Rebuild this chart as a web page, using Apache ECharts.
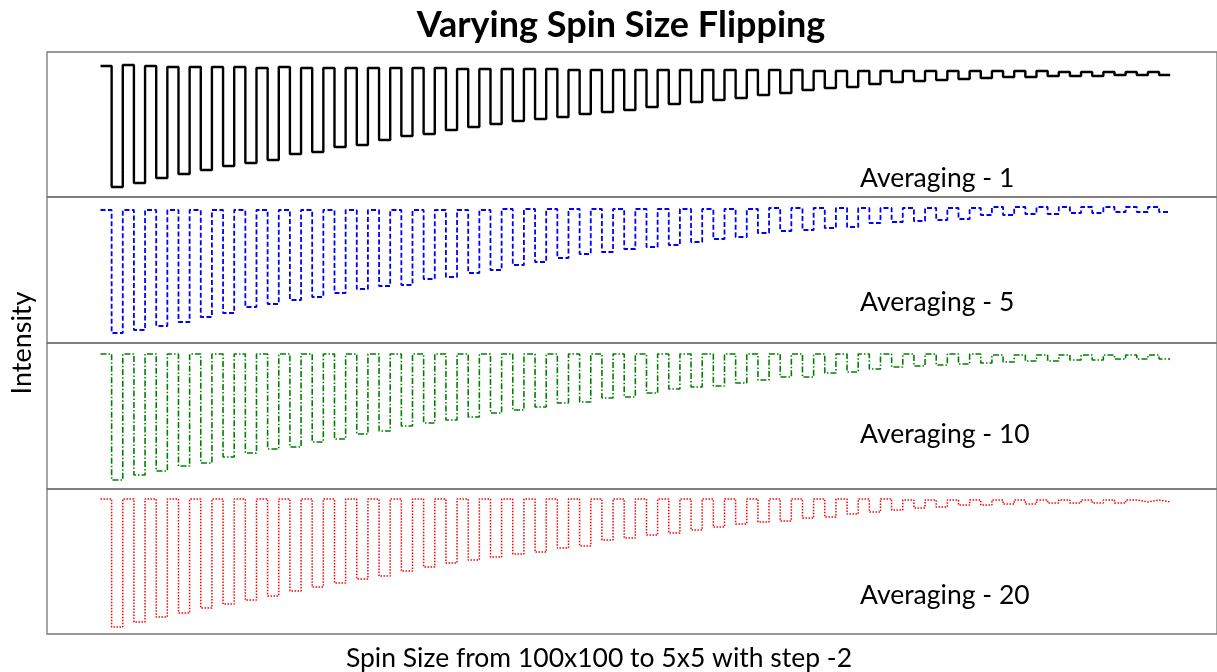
<!DOCTYPE html>
<html>
<head>
<meta charset="utf-8">
<script src="https://cdn.jsdelivr.net/npm/echarts@6/dist/echarts.min.js"></script>
<style>
html,body{margin:0;padding:0;background:#fff;}
#chart{width:1217px;height:672px;}
</style>
</head>
<body>
<div id="chart"></div>
<script>
// Spin sizes (one flip cycle per size)
const spinSizes = [100,98,96,94,92,90,88,86,84,82,80,78,76,74,72,70,68,66,64,62,60,58,56,54,52,50,48,46,44,42,40,38,36,34,32,30,28,26,24,22,20,18,16,14,12,10,8,6];

// Averaging - 1 (black): plateau levels per cycle
const avg1High = [131,132,131,130,130,130,130,129,130,129,129,129,129,129,129,129,128,128,128,128,128,127,127,127,127,127,127,127,127,127,127,127,126,126,126,126,126,126,126,126,126,126,126,125,125,125,125,125];
const avg1Low  = [10,14,19,23,27,31,34,37,43,45,50,52,57,61,63,67,70,73,76,78,80,83,85,87,90,93,95,97,99,102,104,107,109,110,113,115,116,117,118,119,120,120,121,121,121,122,122,122];

// Averaging - 5 (blue)
const avg5High = [133,133,133,133,133,133,133,133,133,133,133,133,133,133,133,133,133,133,134,134,134,134,134,134,134,134,134,134,134,134,135,135,135,135,135,135,135,135,135,135,136,136,136,136,136,136,136,136];
const avg5Low  = [10,13,17,21,26,30,36,39,43,46,50,54,57,58,64,66,70,73,78,81,85,89,91,94,96,98,101,104,106,110,112,113,115,116,120,121,122,123,124,128,128,129,129,130,130,131,131,131];

// Averaging - 10 (green)
const avg10High = [135,135,135,135,135,135,135,135,135,135,135,135,135,135,135,135,135,135,135,135,135,135,135,135,135,135,135,135,135,135,135,135,135,135,135,135,135,135,135,135,134,134,134,134,134,134,134,134];
const avg10Low  = [9,14,18,23,26,32,36,40,42,47,50,55,58,63,66,69,72,76,79,82,86,87,91,92,96,100,102,103,106,109,112,112,116,117,120,122,123,124,125,126,127,128,128,129,129,130,130,130];

// Averaging - 20 (red)
const avg20High = [135,135,135,135,135,135,135,135,135,135,135,135,135,135,135,135,135,135,135,135,135,135,135,135,135,135,135,135,135,135,135,135,135,135,135,135,134,134,134,134,134,134,134,134,134,134,134,134];
const avg20Low  = [7,12,17,21,26,30,34,38,43,47,51,55,58,63,67,71,74,77,80,82,86,88,94,96,99,101,104,107,110,112,113,116,117,120,122,124,126,127,129,129,130,130,131,131,131,131,132,132];

const panelLabels = ['Averaging - 1','Averaging - 5','Averaging - 10','Averaging - 20'];
const titleText = 'Varying Spin Size Flipping';
const xLabel = 'Spin Size from 100x100 to 5x5 with step -2';
const yLabel = 'Intensity';

function squareWave(highs, lows){
  const pts = [];
  for (let i = 0; i < spinSizes.length; i++){
    pts.push([i, highs[i]], [i+0.5, highs[i]], [i+0.5, lows[i]], [i+1, lows[i]]);
  }
  return pts;
}

const panels = [
  {top:52,  height:145, h:avg1High,  l:avg1Low,  color:'#000000', type:'solid',        width:2.4, lab:178},
  {top:197, height:146, h:avg5High,  l:avg5Low,  color:'#0000ff', type:[5,2.5],        width:1.8, lab:302},
  {top:343, height:146, h:avg10High, l:avg10Low, color:'#008000', type:[6,2,1.5,2],    width:1.6, lab:434},
  {top:489, height:145, h:avg20High, l:avg20Low, color:'#ff0000', type:[1.5,1.5],      width:1.5, lab:595}
];

const grids = [], xAxes = [], yAxes = [], series = [], graphics = [];
panels.forEach((p, k) => {
  grids.push({left:47, right:-3, top:p.top, height:p.height, show:true, borderColor:'#777777', borderWidth:1.3, backgroundColor:'transparent'});
  xAxes.push({type:'value', gridIndex:k, min:-2.4, max:50.1, show:false});
  yAxes.push({type:'value', gridIndex:k, min:0, max:p.height, show:false});
  series.push({
    type:'line', xAxisIndex:k, yAxisIndex:k, data:squareWave(p.h, p.l),
    showSymbol:false, symbol:'none', silent:true, animation:false,
    lineStyle:{color:p.color, width:p.width, type:p.type}
  });
  graphics.push({type:'text', x:860, y:p.lab, style:{text:panelLabels[k], font:'26.5px Lato', fill:'#000', textVerticalAlign:'middle'}});
});

graphics.push({type:'text', x:22, y:343, rotation:Math.PI/2, style:{text:yLabel, font:'27px Lato', fill:'#000', textAlign:'center', textVerticalAlign:'middle'}});
graphics.push({type:'text', x:599, y:658, style:{text:xLabel, font:'26.5px Lato', fill:'#000', textAlign:'center', textVerticalAlign:'middle'}});
graphics.push({type:'text', x:621, y:25, style:{text:titleText, font:'bold 36px Lato', fill:'#000', textAlign:'center', textVerticalAlign:'middle'}});

const chart = echarts.init(document.getElementById('chart'), null, {renderer:'canvas'});
chart.setOption({
  animation:false,
  backgroundColor:'#ffffff',
  grid:grids, xAxis:xAxes, yAxis:yAxes, series:series, graphic:graphics
});
</script>
</body>
</html>
